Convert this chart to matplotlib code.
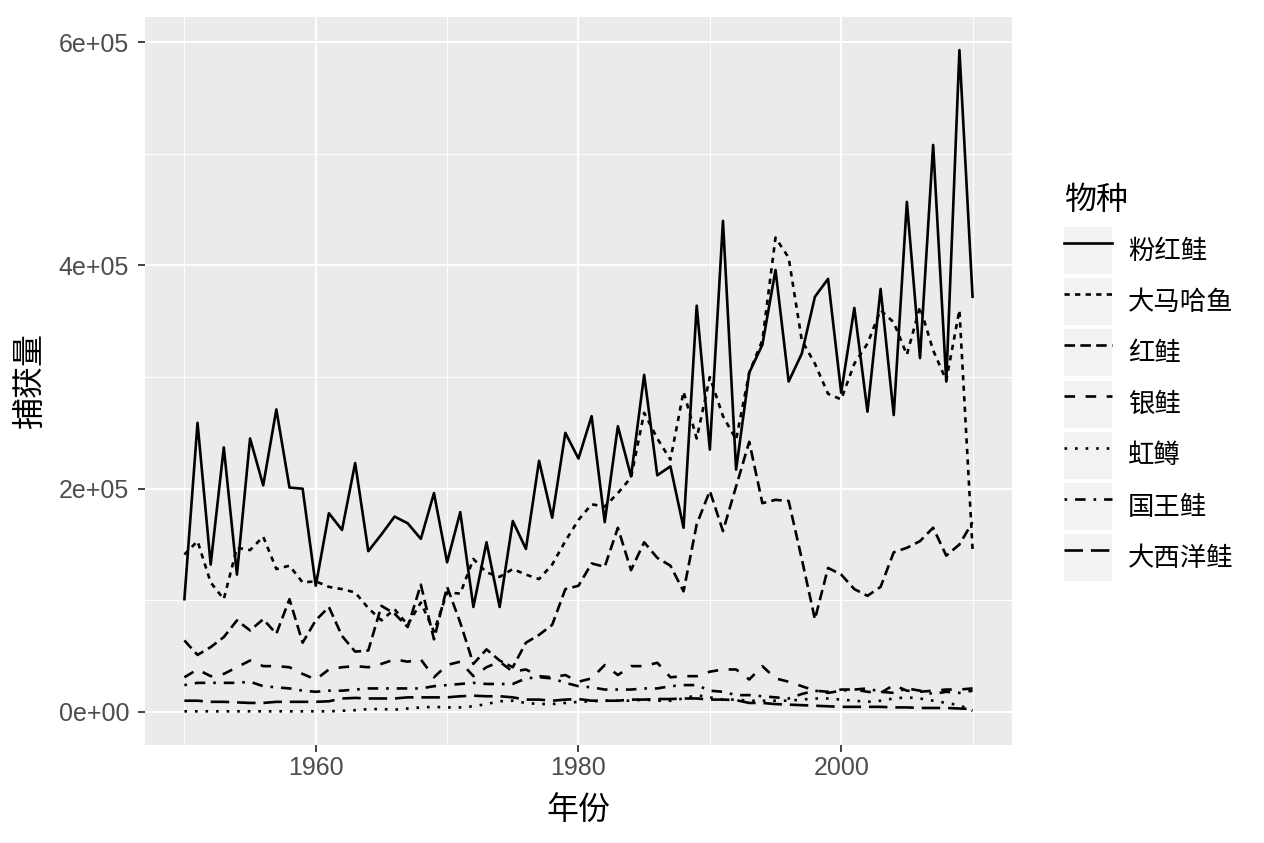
import numpy as np
import matplotlib
matplotlib.use('Agg')
import matplotlib.pyplot as plt
from matplotlib.patches import Rectangle
from matplotlib.lines import Line2D
from matplotlib.legend_handler import HandlerTuple
from matplotlib.ticker import FixedLocator, FuncFormatter

plt.rcParams['font.family'] = ['Liberation Sans', 'Noto Sans CJK SC', 'DejaVu Sans']

# 年份 1950-2010，数值单位：千
years = list(range(1950, 2011))

pink = [101, 259, 132, 237, 123, 245, 203, 271, 201, 200,
        113, 178, 163, 223, 144, 159, 175, 169, 155, 196,
        134, 179, 94, 152, 94, 171, 146, 225, 174, 250,
        227, 265, 170, 256, 211, 302, 212, 220, 165, 364,
        235, 440, 217, 304, 329, 396, 296, 321, 372, 388,
        286, 362, 269, 379, 266, 457, 317, 508, 296, 593, 372]

chum = [141, 153, 116, 101, 147, 145, 157, 128, 131, 116,
        117, 112, 110, 107, 93, 82, 92, 78, 98, 72,
        107, 106, 137, 125, 121, 128, 123, 119, 132, 153,
        172, 186, 184, 196, 210, 268, 245, 226, 287, 245,
        300, 265, 244, 304, 333, 425, 407, 333, 312, 285,
        280, 312, 330, 360, 349, 320, 363, 324, 297, 360, 146]

sockeye = [64, 51, 58, 67, 82, 73, 83, 70, 101, 62,
           82, 94, 68, 54, 55, 95, 88, 76, 114, 65,
           112, 80, 43, 56, 46, 40, 62, 69, 78, 110,
           113, 133, 130, 165, 127, 152, 138, 131, 108, 168,
           198, 162, 202, 242, 187, 190, 189, 137, 83, 129,
           123, 110, 104, 112, 143, 147, 153, 165, 140, 150, 170]

coho = [31, 38, 32, 34, 40, 46, 41, 41, 40, 34,
        29, 38, 40, 41, 40, 43, 47, 45, 47, 31,
        42, 45, 32, 40, 45, 36, 38, 32, 31, 33,
        27, 30, 42, 33, 41, 41, 44, 31, 32, 32,
        36, 38, 38, 29, 41, 30, 27, 23, 19, 18,
        20, 20, 18, 17, 24, 19, 18, 19, 20, 20, 21]

steelhead = [0.5, 0.5, 0.5, 0.5, 0.5, 0.5, 0.5, 0.5, 0.5, 0.5,
             0.5, 0.5, 1, 1.5, 2.5, 2.5, 2, 3, 4, 4.5,
             4, 4, 5, 7, 9.5, 10, 8, 7, 7, 8,
             9, 9.5, 10, 10, 10, 11, 10, 10, 12, 15,
             13, 11, 11, 10, 10, 10, 10, 11, 12, 12,
             11, 10, 9, 10, 12, 13, 12, 10, 8, 6, 1]

chinook = [24, 26, 26, 26, 26, 27, 23, 22, 21, 19,
           18, 19, 19, 20, 21, 21, 21, 21, 21, 23,
           24, 25, 26, 25, 25, 25, 30, 31, 30, 26,
           23, 22, 20, 20, 20, 21, 21, 23, 24, 24,
           19, 18, 15, 15, 14, 13, 12, 16, 19, 17,
           19, 20, 21, 18, 17, 21, 19, 16, 18, 17, 19]

atlantic = [10, 10, 9, 9, 8.5, 8, 8, 9, 9, 9,
            9, 9.5, 12, 12.5, 12, 12, 12, 13, 13, 13,
            13, 14, 14.5, 14, 14, 13, 11, 11, 10, 11,
            11.5, 10, 10, 10, 11, 11, 11.5, 11.5, 12, 12,
            11, 11, 10.5, 8, 8, 7, 6.5, 6, 5.5, 5,
            4.5, 4.5, 4.5, 4.5, 4, 4, 3.5, 3.5, 3.5, 3, 2.5]

species = ['粉红鲑', '大马哈鱼', '红鲑', '银鲑', '虹鳟', '国王鲑', '大西洋鲑']
series = [pink, chum, sockeye, coho, steelhead, chinook, atlantic]
# ggplot 默认线型: solid, 22, 42, 44, 13, 1343, 73
dash_list = [None, (2, 2), (4, 2), (4, 4), (1, 3), (1, 3, 4, 3), (7, 3)]

fig = plt.figure(figsize=(12.64, 8.43), dpi=100)
ax = fig.add_axes([0.1147, 0.1163, 0.6859, 0.8635])
ax.set_facecolor('#EBEBEB')
for s in ax.spines.values():
    s.set_visible(False)

lw = 1.9
handles = []
for name, vals, d in zip(species, series, dash_list):
    y = np.array(vals) * 1000
    if d is None:
        ax.plot(years, y, color='black', lw=lw)
        h = Line2D([], [], color='black', lw=lw)
    else:
        ax.plot(years, y, color='black', lw=lw, dashes=d, dash_capstyle='butt')
        h = Line2D([], [], color='black', lw=lw, dashes=d, dash_capstyle='butt')
    handles.append((Rectangle((0, 0), 1, 1, fc='#F2F2F2', ec='none'), h))

ax.set_xlim(1947, 2013)
ax.set_ylim(-29650, 622650)
ax.xaxis.set_major_locator(FixedLocator([1960, 1980, 2000]))
ax.xaxis.set_minor_locator(FixedLocator([1950, 1970, 1990, 2010]))
ax.yaxis.set_major_locator(FixedLocator([0, 200000, 400000, 600000]))
ax.yaxis.set_minor_locator(FixedLocator([100000, 300000, 500000]))
ax.yaxis.set_major_formatter(FuncFormatter(lambda v, p: f'{v:.0e}'))
ax.xaxis.set_major_formatter(FuncFormatter(lambda v, p: f'{int(v)}'))

ax.set_axisbelow(True)
ax.grid(which='major', color='white', lw=1.4)
ax.grid(which='minor', color='white', lw=0.7)
ax.tick_params(which='major', length=5, width=1.3, color='#333333',
               labelcolor='#4D4D4D', labelsize=18)
ax.tick_params(axis='x', which='major', pad=3)
ax.tick_params(axis='y', which='major', pad=6.5)
ax.tick_params(which='minor', length=0)

ax.set_xlabel('年份', fontsize=23, labelpad=12)
ax.set_ylabel('捕获量', fontsize=23, labelpad=9)

leg = fig.legend(handles=handles, labels=species,
                 handler_map={tuple: HandlerTuple(ndivide=1, pad=0)},
                 loc='upper left', bbox_to_anchor=(0.8418, 0.7794),
                 frameon=False, title='物种', fontsize=19, title_fontsize=23,
                 handlelength=1.82, handleheight=2.36, labelspacing=0.16,
                 handletextpad=0.6, alignment='left', borderpad=0,
                 borderaxespad=0)
leg._legend_box.sep = 8

fig.savefig('out.png', dpi=100)
